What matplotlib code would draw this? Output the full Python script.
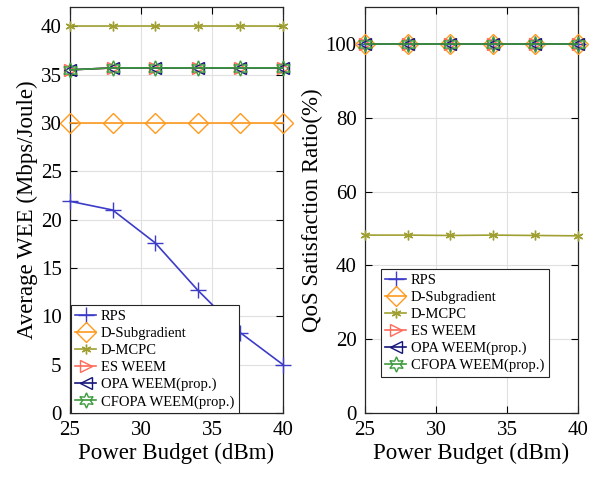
import matplotlib
matplotlib.use("Agg")
import matplotlib.pyplot as plt

plt.rcParams['font.family'] = ['Liberation Serif', 'DejaVu Serif']
plt.rcParams['mathtext.fontset'] = 'stix'

x = [25, 28, 31, 34, 37, 40]
wee_rps = [21.9, 21.0, 17.6, 12.7, 8.3, 5.0]
wee_dsub = [30.0, 30.0, 30.0, 30.0, 30.0, 30.0]
wee_dmcpc = [40.0, 40.0, 40.0, 40.0, 40.0, 40.0]
wee_es = [35.5, 35.7, 35.7, 35.7, 35.7, 35.7]
wee_opa = [35.5, 35.7, 35.7, 35.7, 35.7, 35.7]
wee_cfopa = [35.5, 35.7, 35.7, 35.7, 35.7, 35.7]

qos_rps = [100, 100, 100, 100, 100, 100]
qos_dsub = [100, 100, 100, 100, 100, 100]
qos_dmcpc = [48.2, 48.2, 48.1, 48.2, 48.1, 48.0]
qos_es = [100, 100, 100, 100, 100, 100]
qos_opa = [100, 100, 100, 100, 100, 100]
qos_cfopa = [100, 100, 100, 100, 100, 100]

labels = ['RPS', 'D-Subgradient', 'D-MCPC', 'ES WEEM', 'OPA WEEM(prop.)', 'CFOPA WEEM(prop.)']
colors = ['#3C3CC8', '#FF9A1E', '#A0A032', '#FF6A5A', '#14147A', '#3C9A3C']
markers = ['+', 'D', (6, 2, 0), '>', '<', (6, 1, 0)]
msizes = [12, 10, 7, 9, 9, 11]

fig = plt.figure(figsize=(6.0, 4.78), dpi=100)
ax1 = fig.add_axes([70/600, 65/478, 213/600, 406/478])
ax2 = fig.add_axes([365/600, 65/478, 213/600, 406/478])

def draw(ax, series):
    for s, lab, c, m, ms in zip(series, labels, colors, markers, msizes):
        filled = m in ('+', (6, 2, 0))
        ax.plot(x, s, color=c, marker=m, markersize=ms, linewidth=1.2,
                markerfacecolor=(c if filled else 'none'), markeredgecolor=c,
                markeredgewidth=1.0, label=lab, clip_on=False, zorder=3)
    ax.set_xlim(25, 40)
    ax.set_xticks([25, 30, 35, 40])
    ax.grid(True, color='#E0E0E0', linewidth=0.8)
    ax.set_axisbelow(True)
    ax.tick_params(direction='in', top=True, right=True, labelsize=15, length=5, width=0.8, pad=6)
    for sp in ax.spines.values():
        sp.set_linewidth(0.9)
        sp.set_color('#262626')
    ax.set_xlabel('Power Budget (dBm)', fontsize=16.5, labelpad=2)

leg_kw = dict(fontsize=10.5, frameon=True, fancybox=False, edgecolor='#262626',
              handlelength=1.4, handletextpad=0.35, labelspacing=0.26,
              borderpad=0.3, framealpha=1.0)

draw(ax1, [wee_rps, wee_dsub, wee_dmcpc, wee_es, wee_opa, wee_cfopa])
ax1.set_ylim(0, 42)
ax1.set_yticks([0, 5, 10, 15, 20, 25, 30, 35, 40])
ax1.set_ylabel('Average WEE (Mbps/Joule)', fontsize=16.5, labelpad=2)
leg1 = ax1.legend(loc='lower left', bbox_to_anchor=(0.005, 0.0), borderaxespad=0.0, **leg_kw)
leg1.get_frame().set_linewidth(0.8)

draw(ax2, [qos_rps, qos_dsub, qos_dmcpc, qos_es, qos_opa, qos_cfopa])
ax2.set_ylim(0, 110)
ax2.set_yticks([0, 20, 40, 60, 80, 100])
ax2.set_ylabel('QoS Satisfaction Ratio(%)', fontsize=16.5, labelpad=2)
leg2 = ax2.legend(loc='lower left', bbox_to_anchor=(0.075, 0.089), borderaxespad=0.0, **leg_kw)
leg2.get_frame().set_linewidth(0.8)

fig.savefig('out.png', dpi=100)
